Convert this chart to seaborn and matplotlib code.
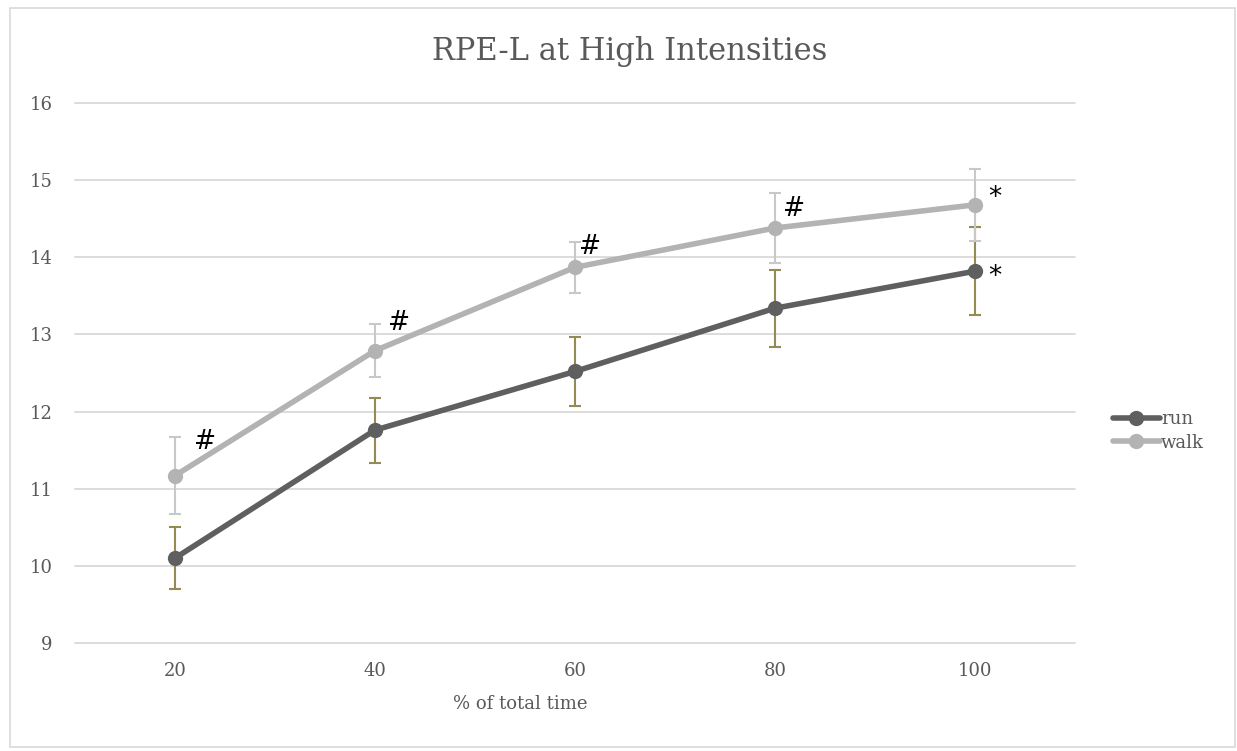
import matplotlib
matplotlib.use("Agg")
import matplotlib.pyplot as plt
import seaborn as sns
import pandas as pd
from matplotlib.patches import Rectangle

# data
time_pct = ["20", "40", "60", "80", "100"]
run_mean = [10.10, 11.76, 12.52, 13.34, 13.82]
run_err = [0.40, 0.42, 0.45, 0.50, 0.57]
walk_mean = [11.17, 12.79, 13.87, 14.38, 14.68]
walk_err = [0.50, 0.34, 0.33, 0.45, 0.47]
walk_marks = ["#", "#", "#", "#", "*"]
run_marks = ["", "", "", "", "*"]

run_col = "#5f5f5f"
walk_col = "#b3b3b3"
run_err_col = "#948a54"
walk_err_col = "#c8c8c8"
text_col = "#595959"

sns.set_theme(style="white")
plt.rcParams["font.family"] = ["DejaVu Serif"]

df = pd.DataFrame({
    "pos": list(range(len(time_pct))) * 2,
    "value": run_mean + walk_mean,
    "group": ["run"] * len(time_pct) + ["walk"] * len(time_pct),
})

fig = plt.figure(figsize=(12.37, 7.51), dpi=100)
ax = fig.add_axes([0.0606, 0.1438, 0.8084, 0.719])

ax.errorbar(range(len(time_pct)), run_mean, yerr=run_err, fmt="none",
            ecolor=run_err_col, elinewidth=1.5, capsize=4.3, capthick=1.5, zorder=2)
ax.errorbar(range(len(time_pct)), walk_mean, yerr=walk_err, fmt="none",
            ecolor=walk_err_col, elinewidth=1.5, capsize=4.3, capthick=1.5, zorder=2)

sns.lineplot(data=df, x="pos", y="value", hue="group",
             palette={"run": run_col, "walk": walk_col},
             marker="o", markersize=11, markeredgewidth=0,
             linewidth=4, ax=ax, zorder=3)

for i, m in enumerate(walk_marks):
    if m == "#":
        off = [(22, 24), (17, 20), (11, 15), (14, 14)][i]
    else:
        off = (14, 5)
    ax.annotate(m, (i, walk_mean[i]), xytext=off, textcoords="offset points",
                fontsize=19, color="black", ha="center", va="center",
                family="DejaVu Sans")
for i, m in enumerate(run_marks):
    if m:
        ax.annotate(m, (i, run_mean[i]), xytext=(14, -4), textcoords="offset points",
                    fontsize=19, color="black", ha="center", va="center",
                    family="DejaVu Sans")

ax.set_xlim(-0.5, len(time_pct) - 0.5)
ax.set_ylim(9, 16)
ax.set_xticks(range(len(time_pct)))
ax.set_xticklabels(time_pct)
ax.set_yticks(range(9, 17))
ax.tick_params(axis="both", length=0, labelsize=13, labelcolor=text_col)
ax.tick_params(axis="y", pad=16)
ax.tick_params(axis="x", pad=14)
ax.yaxis.grid(True, color="#d9d9d9", linewidth=1.3)
for gl in ax.get_ygridlines():
    gl.set_clip_on(False)
ax.xaxis.grid(False)
for s in ax.spines.values():
    s.set_visible(False)

ax.set_ylabel("")
ax.set_xlabel("% of total time", fontsize=13, color=text_col)
ax.xaxis.set_label_coords(0.445, -0.096)

fig.text(0.509, 0.931, "RPE-L at High Intensities", fontsize=22,
         color=text_col, ha="center", va="center")

leg = ax.legend(loc="center left", bbox_to_anchor=(1113 / 1237, 1 - 431 / 751),
                bbox_transform=fig.transFigure, frameon=False, fontsize=13,
                handlelength=2.6, handletextpad=0.05, labelspacing=0.3,
                borderaxespad=0, borderpad=0)
for t in leg.get_texts():
    t.set_color(text_col)

fig.patches.append(Rectangle((0.008, 0.005), 0.99, 0.985, transform=fig.transFigure,
                             fill=False, edgecolor="#d9d9d9", linewidth=1.2))

fig.savefig("out.png", dpi=100)
